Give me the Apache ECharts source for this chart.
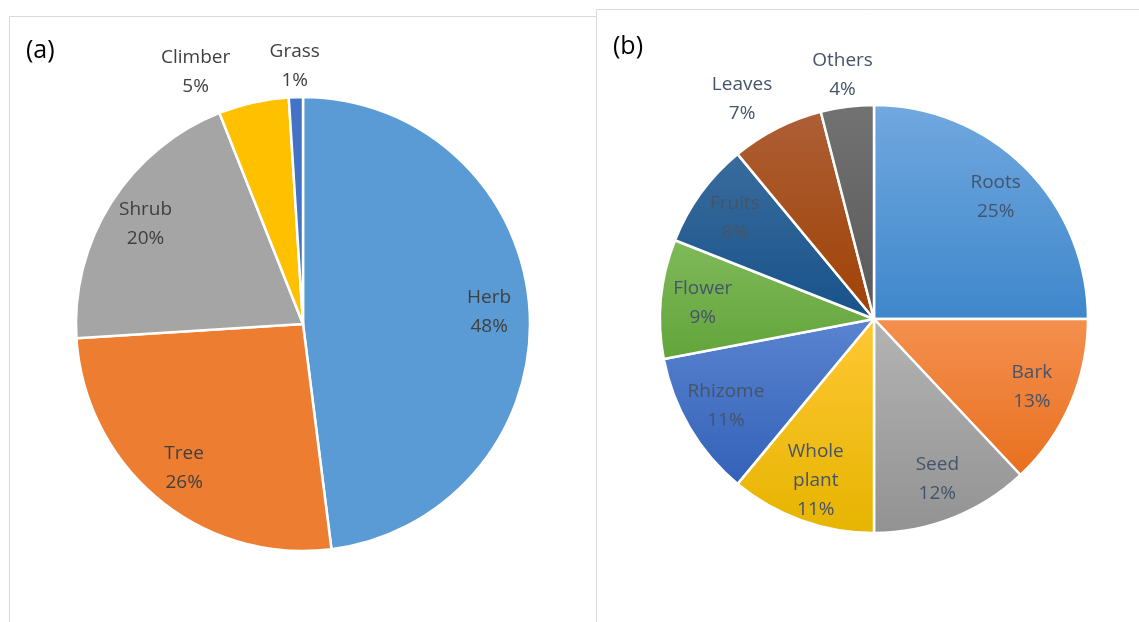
<!DOCTYPE html>
<html>
<head>
<meta charset="utf-8">
<script src="https://cdn.jsdelivr.net/npm/echarts@6/dist/echarts.min.js"></script>
<style>
  html, body { margin: 0; padding: 0; background: #fff; }
  #main { width: 1139px; height: 622px; }
</style>
</head>
<body>
<div id="main"></div>
<script>
var habitNames = ['Herb', 'Tree', 'Shrub', 'Climber', 'Grass'];
var habitValues = [48, 26, 20, 5, 1];
var habitOutside = ['Climber', 'Grass'];

var partNames = ['Roots', 'Bark', 'Seed', 'Whole plant', 'Rhizome', 'Flower', 'Fruits', 'Leaves', 'Others'];
var partValues = [25, 13, 12, 11, 11, 9, 8, 7, 4];
var partOutside = ['Leaves', 'Others'];

var habitColors = ['#5B9BD5', '#ED7D31', '#A5A5A5', '#FFC000', '#4472C4'];
// top / bottom colours of the gradient fill
var partColors = [
    ['#71A8DF', '#3E87CB'],
    ['#F4904F', '#E8701F'],
    ['#B4B4B4', '#929292'],
    ['#FFC834', '#E6B400'],
    ['#5A84D0', '#3361B8'],
    ['#80BA5A', '#62A43A'],
    ['#3A6C9D', '#17528A'],
    ['#AD5F36', '#A04104'],
    ['#727272', '#595959']
];

// small nudges Excel applied to the outside labels
var labelNudge = { Climber: [-50, 5], Grass: [0, 5], Leaves: [-18, 4], Others: [0, 5] };

var chart = echarts.init(document.getElementById('main'));

function fillData(names, values, colorFn) {
    return names.map(function (n, i) {
        return { name: n, value: values[i], itemStyle: { color: colorFn(i) } };
    });
}

// outer == true -> only labels of small slices, else only the others
function labelData(names, values, outside, outer) {
    return names.map(function (n, i) {
        var isOut = outside.indexOf(n) >= 0;
        return { name: n, value: values[i], label: { show: isOut === outer } };
    });
}

function labelText(p) {
    return p.name.replace(' ', '\n') + '\n' + p.value + '%';
}

var font = '"Open Sans", sans-serif';

function labelSeries(center, radius, names, values, outside, outer, color) {
    return {
        type: 'pie',
        center: center,
        radius: radius,
        startAngle: 90,
        silent: true,
        itemStyle: { color: 'rgba(0,0,0,0)' },
        label: {
            position: 'inside', formatter: labelText,
            color: color, fontSize: 19, lineHeight: 29, fontFamily: font
        },
        labelLine: { show: false },
        labelLayout: function (p) {
            var nudge = labelNudge[names[p.dataIndex]];
            return nudge ? { dx: nudge[0], dy: nudge[1] } : {};
        },
        data: labelData(names, values, outside, outer)
    };
}

var option = {
    animation: false,
    graphic: [
        { type: 'rect', shape: { x: 9.5, y: 16.5, width: 587, height: 640 }, style: { fill: 'none', stroke: '#D9D9D9', lineWidth: 1 } },
        { type: 'rect', shape: { x: 596.5, y: 9.5, width: 600, height: 640 }, style: { fill: '#fff', stroke: '#D9D9D9', lineWidth: 1 } },
        { type: 'text', left: 26, top: 38, style: { text: '(a)', font: '25px ' + font, fill: '#000' } },
        { type: 'text', left: 613, top: 34, style: { text: '(b)', font: '25px ' + font, fill: '#000' } }
    ],
    series: [
        {
            type: 'pie',
            center: [303, 324],
            radius: 227,
            startAngle: 90,
            silent: true,
            label: { show: false },
            labelLine: { show: false },
            itemStyle: { borderColor: '#fff', borderWidth: 2.5 },
            data: fillData(habitNames, habitValues, function (i) { return habitColors[i]; })
        },
        labelSeries([303, 324], [140, 227], habitNames, habitValues, habitOutside, false, '#404040'),
        labelSeries([303, 324], [227, 293], habitNames, habitValues, habitOutside, true, '#404040'),
        {
            type: 'pie',
            center: [874, 319],
            radius: 214,
            startAngle: 90,
            silent: true,
            label: { show: false },
            labelLine: { show: false },
            itemStyle: { borderColor: '#fff', borderWidth: 2.5 },
            data: fillData(partNames, partValues, function (i) {
                return new echarts.graphic.LinearGradient(0, 0, 0, 1, [
                    { offset: 0, color: partColors[i][0] },
                    { offset: 1, color: partColors[i][1] }
                ]);
            })
        },
        labelSeries([874, 319], [124, 214], partNames, partValues, partOutside, false, '#44546A'),
        labelSeries([874, 319], [214, 282], partNames, partValues, partOutside, true, '#44546A')
    ]
};

chart.setOption(option);
</script>
</body>
</html>
